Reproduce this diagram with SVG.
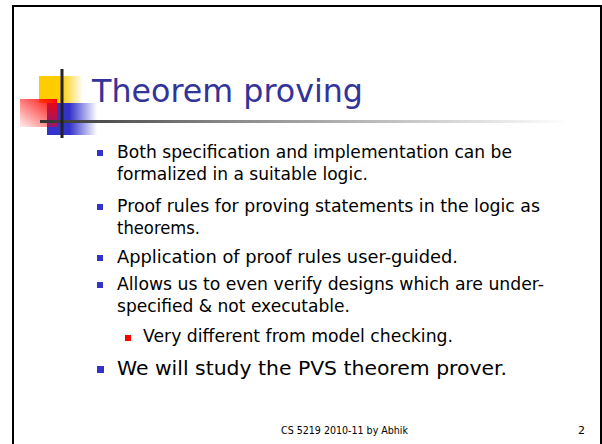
<svg xmlns="http://www.w3.org/2000/svg" width="602" height="444" viewBox="0 0 602 444">
  <style>
    .body { font-family: "DejaVu Sans", "Liberation Sans", sans-serif; font-size: 17px; fill: #000000; }
    .big { font-size: 20px; }
    .title { font-family: "DejaVu Sans", "Liberation Sans", sans-serif; font-size: 32px; fill: #333399; }
    .foot { font-family: "DejaVu Sans", "Liberation Sans", sans-serif; font-size: 11px; fill: #000000; }
    .bl { fill: #3333CC; }
    .br { fill: #FF0000; }
  </style>
  <defs>
    <linearGradient id="yellowFade" x1="0" y1="0" x2="1" y2="0">
      <stop offset="0" stop-color="#FFCC00"/>
      <stop offset="0.5" stop-color="#FFCC00"/>
      <stop offset="1" stop-color="#FFCC00" stop-opacity="0"/>
    </linearGradient>
    <linearGradient id="blueFade" x1="0" y1="0" x2="1" y2="0">
      <stop offset="0" stop-color="#3333CC"/>
      <stop offset="0.45" stop-color="#3333CC"/>
      <stop offset="1" stop-color="#3333CC" stop-opacity="0"/>
    </linearGradient>
    <linearGradient id="redFade" x1="1" y1="0" x2="0" y2="1">
      <stop offset="0" stop-color="#FF0000"/>
      <stop offset="1" stop-color="#FF0000" stop-opacity="0.06"/>
    </linearGradient>
    <linearGradient id="ruleFade" x1="0" y1="0" x2="1" y2="0">
      <stop offset="0" stop-color="#333333"/>
      <stop offset="0.35" stop-color="#888888"/>
      <stop offset="1" stop-color="#FFFFFF"/>
    </linearGradient>
  </defs>

  <rect width="602" height="444" fill="#FFFFFF"/>

  <!-- slide frame -->
  <path d="M13,450 V6 H601 V450" fill="none" stroke="#000000" stroke-width="2"/>

  <!-- title decoration -->
  <g id="title-deco">
    <rect x="39" y="76" width="44" height="27" fill="url(#yellowFade)"/>
    <rect x="47" y="103" width="50" height="32" fill="url(#blueFade)"/>
    <rect x="20" y="99" width="37" height="28" fill="url(#redFade)"/>
    <rect x="40" y="120" width="530" height="3" fill="url(#ruleFade)"/>
    <rect x="60.5" y="69" width="3" height="69" fill="#222222"/>
  </g>

  <g id="title">
    <text class="title" x="92" y="102" textLength="271" lengthAdjust="spacingAndGlyphs">Theorem proving</text>
  </g>

  <!-- bullet list -->
  <g id="bullets">
    <rect class="bl" x="97" y="150" width="6" height="6"/>
    <text class="body" x="117" y="158" textLength="395" lengthAdjust="spacingAndGlyphs">Both specification and implementation can be</text>
    <text class="body" x="117" y="180" textLength="251" lengthAdjust="spacingAndGlyphs">formalized in a suitable logic.</text>

    <rect class="bl" x="97" y="204" width="6" height="6"/>
    <text class="body" x="117" y="212" textLength="423" lengthAdjust="spacingAndGlyphs">Proof rules for proving statements in the logic as</text>
    <text class="body" x="117" y="234" textLength="83" lengthAdjust="spacingAndGlyphs">theorems.</text>

    <rect class="bl" x="97" y="255" width="6" height="6"/>
    <text class="body" x="117" y="263" textLength="341" lengthAdjust="spacingAndGlyphs">Application of proof rules user-guided.</text>

    <rect class="bl" x="97" y="282" width="6" height="6"/>
    <text class="body" x="117" y="290" textLength="427" lengthAdjust="spacingAndGlyphs">Allows us to even verify designs which are under-</text>
    <text class="body" x="117" y="312" textLength="233" lengthAdjust="spacingAndGlyphs">specified &amp; not executable.</text>

    <rect class="br" x="125" y="335" width="6" height="6"/>
    <text class="body" x="143" y="342" textLength="310" lengthAdjust="spacingAndGlyphs">Very different from model checking.</text>

    <rect class="bl" x="97" y="366" width="7" height="7"/>
    <text class="body big" x="117" y="375" textLength="390" lengthAdjust="spacingAndGlyphs">We will study the PVS theorem prover.</text>
  </g>

  <!-- footer -->
  <g id="footer">
    <text class="foot" x="281" y="434" textLength="127" lengthAdjust="spacingAndGlyphs">CS 5219 2010-11 by Abhik</text>
    <text class="foot" x="578" y="434">2</text>
  </g>
</svg>
